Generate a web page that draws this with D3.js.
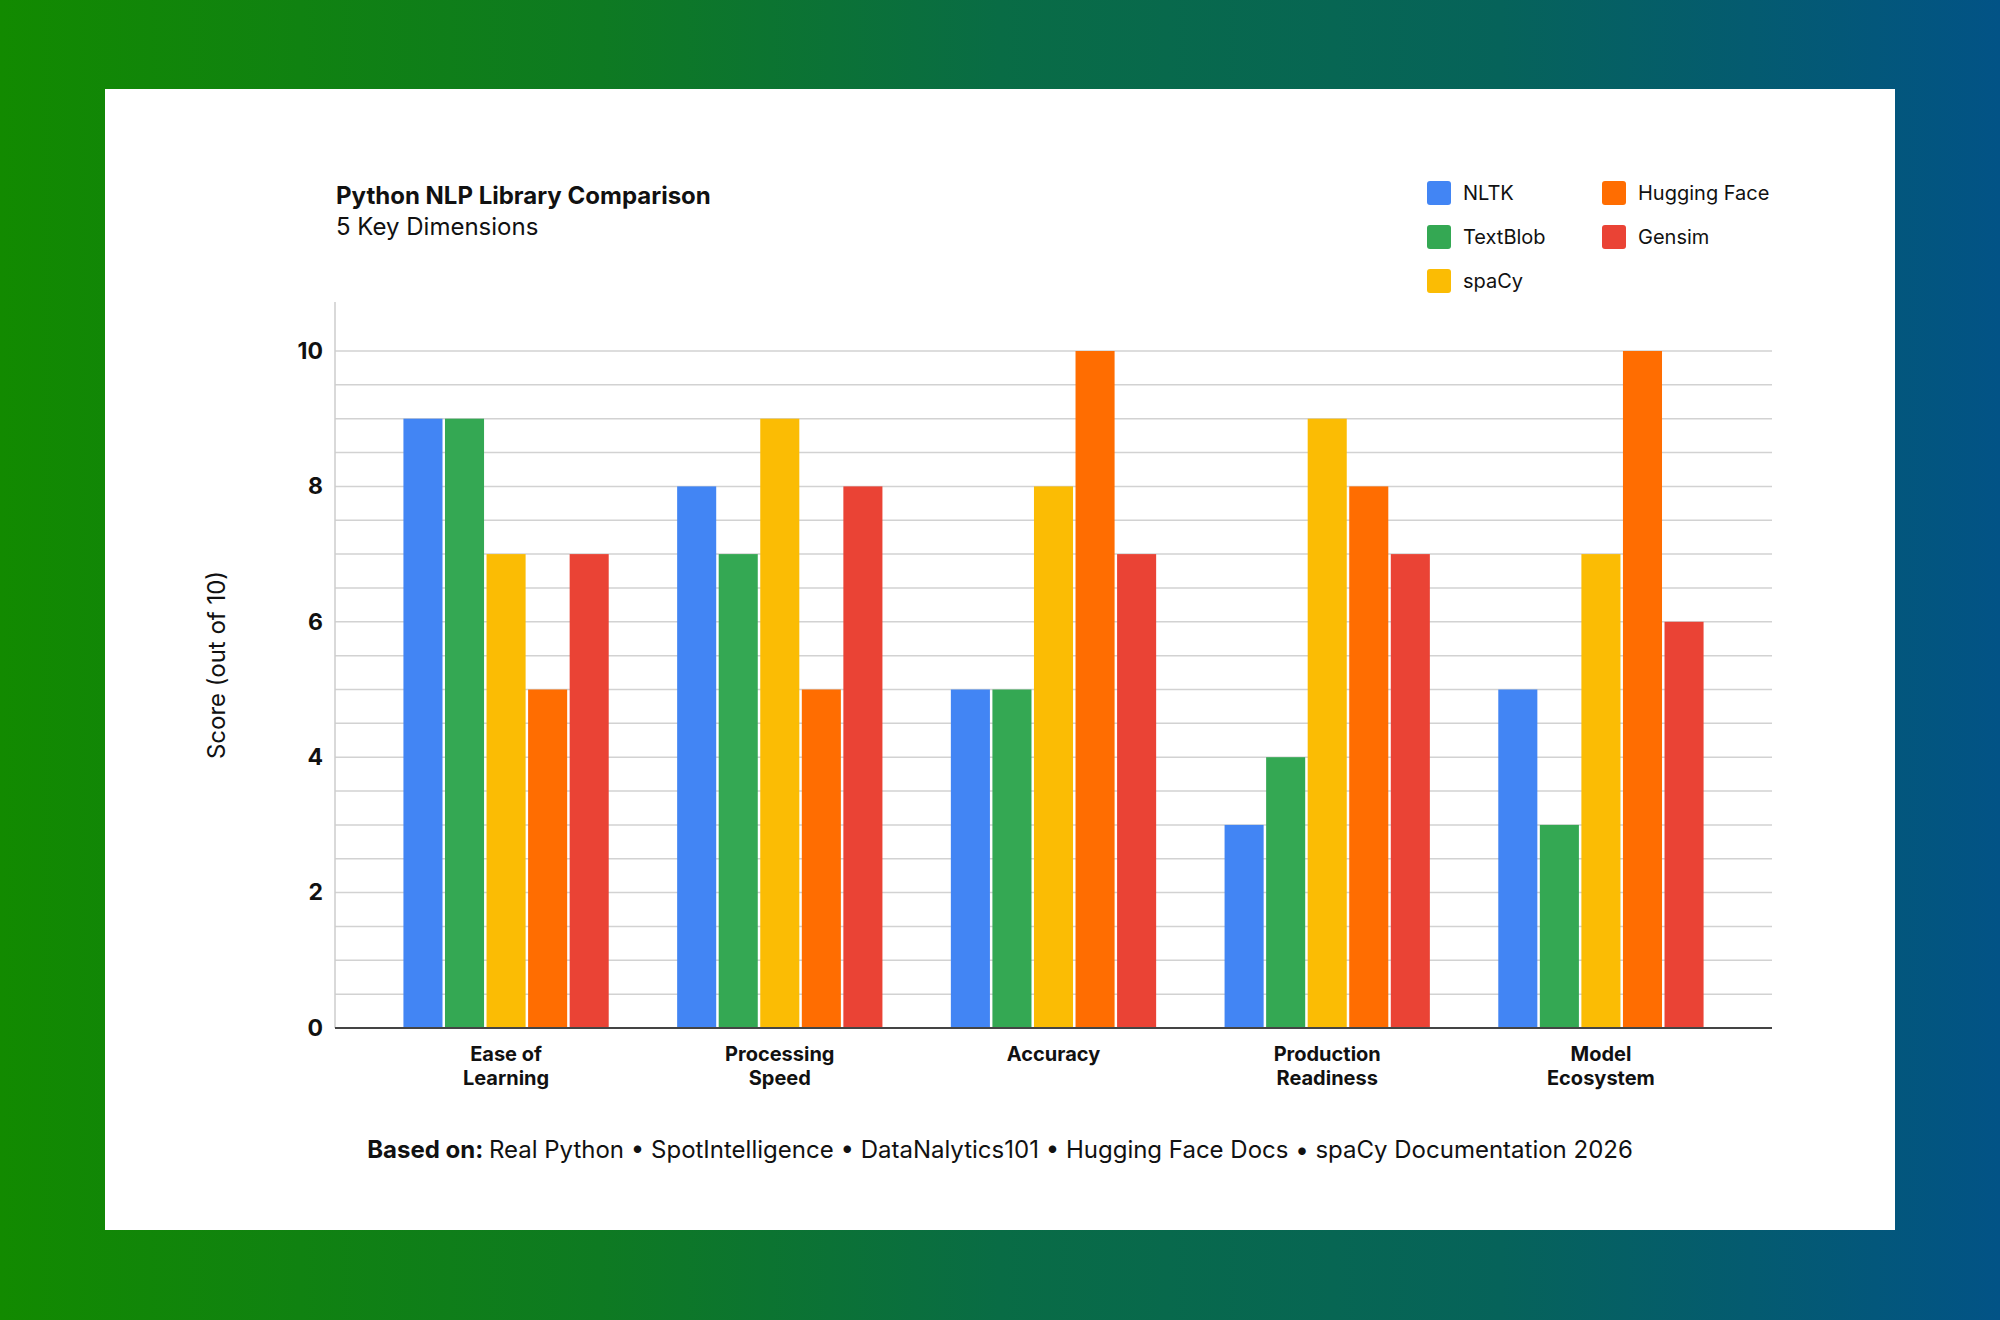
<!DOCTYPE html>
<html>
<head>
<meta charset="utf-8">
<script src="https://cdn.jsdelivr.net/npm/d3@7"></script>
<style>
  html, body { margin: 0; padding: 0; }
  body {
    width: 2000px; height: 1320px; overflow: hidden;
    background: linear-gradient(90deg, #128a00 0%, #0e7a22 30%, #096c45 50%, #06635a 75%, #025386 100%);
    font-family: Inter, "Noto Sans", sans-serif;
  }
  #chart { position: absolute; left: 0; top: 0; }
</style>
</head>
<body>
<div id="chart"></div>
<script>
// chart data
const categories = [["Ease of", "Learning"], ["Processing", "Speed"], ["Accuracy"], ["Production", "Readiness"], ["Model", "Ecosystem"]];
const libraries = ["NLTK", "TextBlob", "spaCy", "Hugging Face", "Gensim"];
const colors = ["#4285f4", "#34a853", "#fbbc04", "#ff6d01", "#ea4335"];
const nltk = [9, 8, 5, 3, 5];
const textblob = [9, 7, 5, 4, 3];
const spacy = [7, 9, 8, 9, 7];
const huggingFace = [5, 5, 10, 8, 10];
const gensim = [7, 8, 7, 7, 6];
const yTicks = [0, 2, 4, 6, 8, 10];

const series = [nltk, textblob, spacy, huggingFace, gensim];
const catKeys = categories.map(c => c.join(" "));

const svg = d3.select("#chart").append("svg")
    .attr("width", 2000)
    .attr("height", 1320);

// white card
svg.append("rect")
    .attr("x", 105).attr("y", 89)
    .attr("width", 1790).attr("height", 1141)
    .attr("fill", "#fff");

const plotL = 335, plotR = 1772, plotT = 302, plotB = 1028;

const x0 = d3.scaleBand()
    .domain(catKeys)
    .range([plotL, plotR])
    .padding(0.25);

const x1 = d3.scaleBand()
    .domain(libraries)
    .range([0, x0.bandwidth()])
    .paddingInner(0.06);

const y = d3.scaleLinear()
    .domain([0, 10])
    .range([plotB, 351]);

// gridlines every 0.5
const grid = d3.range(0.5, 10.01, 0.5);
svg.append("g")
    .selectAll("line")
    .data(grid)
    .join("line")
    .attr("x1", plotL).attr("x2", plotR)
    .attr("y1", d => y(d)).attr("y2", d => y(d))
    .attr("stroke", "#d2d2d2")
    .attr("stroke-width", 1.5);

// y axis line
svg.append("line")
    .attr("x1", plotL).attr("x2", plotL)
    .attr("y1", plotT).attr("y2", plotB)
    .attr("stroke", "#cccccc")
    .attr("stroke-width", 1.5);

// y tick labels
const yAxis = svg.append("g")
    .attr("transform", `translate(${plotL},0)`)
    .call(d3.axisLeft(y).tickValues(yTicks).tickSize(0).tickPadding(12).tickFormat(d3.format("d")));
yAxis.select(".domain").remove();
yAxis.selectAll("text")
    .attr("font-family", "Inter, sans-serif")
    .attr("font-size", 23)
    .attr("font-weight", 700)
    .attr("fill", "#111");

// bars
const groups = svg.append("g")
    .selectAll("g")
    .data(catKeys)
    .join("g")
    .attr("transform", d => `translate(${x0(d)},0)`);

groups.selectAll("rect")
    .data((d, i) => libraries.map((lib, j) => ({ lib, j, v: series[j][i] })))
    .join("rect")
    .attr("x", d => x1(d.lib))
    .attr("y", d => y(d.v))
    .attr("width", x1.bandwidth())
    .attr("height", d => y(0) - y(d.v))
    .attr("fill", d => colors[d.j]);

// x axis
svg.append("line")
    .attr("x1", plotL).attr("x2", plotR)
    .attr("y1", plotB).attr("y2", plotB)
    .attr("stroke", "#444")
    .attr("stroke-width", 2);

const xAxis = svg.append("g")
    .attr("transform", `translate(0,${plotB})`)
    .call(d3.axisBottom(x0).tickSize(0).tickFormat(""));
xAxis.select(".domain").remove();

svg.append("g")
    .selectAll("text")
    .data(categories)
    .join("text")
    .attr("x", (d, i) => x0(catKeys[i]) + x0.bandwidth() / 2)
    .attr("y", 1061)
    .attr("text-anchor", "middle")
    .attr("font-size", 20)
    .attr("font-weight", 700)
    .attr("fill", "#111")
    .selectAll("tspan")
    .data(d => d)
    .join("tspan")
    .attr("x", function() { return this.parentNode.getAttribute("x"); })
    .attr("dy", (d, i) => i === 0 ? 0 : 24)
    .text(d => d);

// y axis title
svg.append("text")
    .attr("transform", "translate(225,665) rotate(-90)")
    .attr("text-anchor", "middle")
    .attr("font-size", 24)
    .attr("fill", "#111")
    .text("Score (out of 10)");

// title block
svg.append("text")
    .attr("x", 336).attr("y", 204)
    .attr("font-size", 24)
    .attr("font-weight", 700)
    .attr("fill", "#111")
    .text("Python NLP Library Comparison");

svg.append("text")
    .attr("x", 336).attr("y", 235)
    .attr("font-size", 24)
    .attr("fill", "#111")
    .text("5 Key Dimensions");

// legend (column-first)
const legend = svg.append("g")
    .selectAll("g")
    .data(libraries)
    .join("g")
    .attr("transform", (d, i) => `translate(${1427 + Math.floor(i / 3) * 175},${181 + (i % 3) * 44})`);

legend.append("rect")
    .attr("width", 24).attr("height", 24)
    .attr("rx", 3)
    .attr("fill", (d, i) => colors[i]);

legend.append("text")
    .attr("x", 36).attr("y", 19)
    .attr("font-size", 20)
    .attr("fill", "#111")
    .text(d => d);

// footer
const foot = svg.append("text")
    .attr("x", 1000).attr("y", 1158)
    .attr("text-anchor", "middle")
    .attr("font-size", 24)
    .attr("fill", "#111");
foot.append("tspan").attr("font-weight", 700).text("Based on: ");
foot.append("tspan").text("Real Python \u2022 SpotIntelligence \u2022 DataNalytics101 \u2022 Hugging Face Docs \u2022 spaCy Documentation 2026");
</script>
</body>
</html>
